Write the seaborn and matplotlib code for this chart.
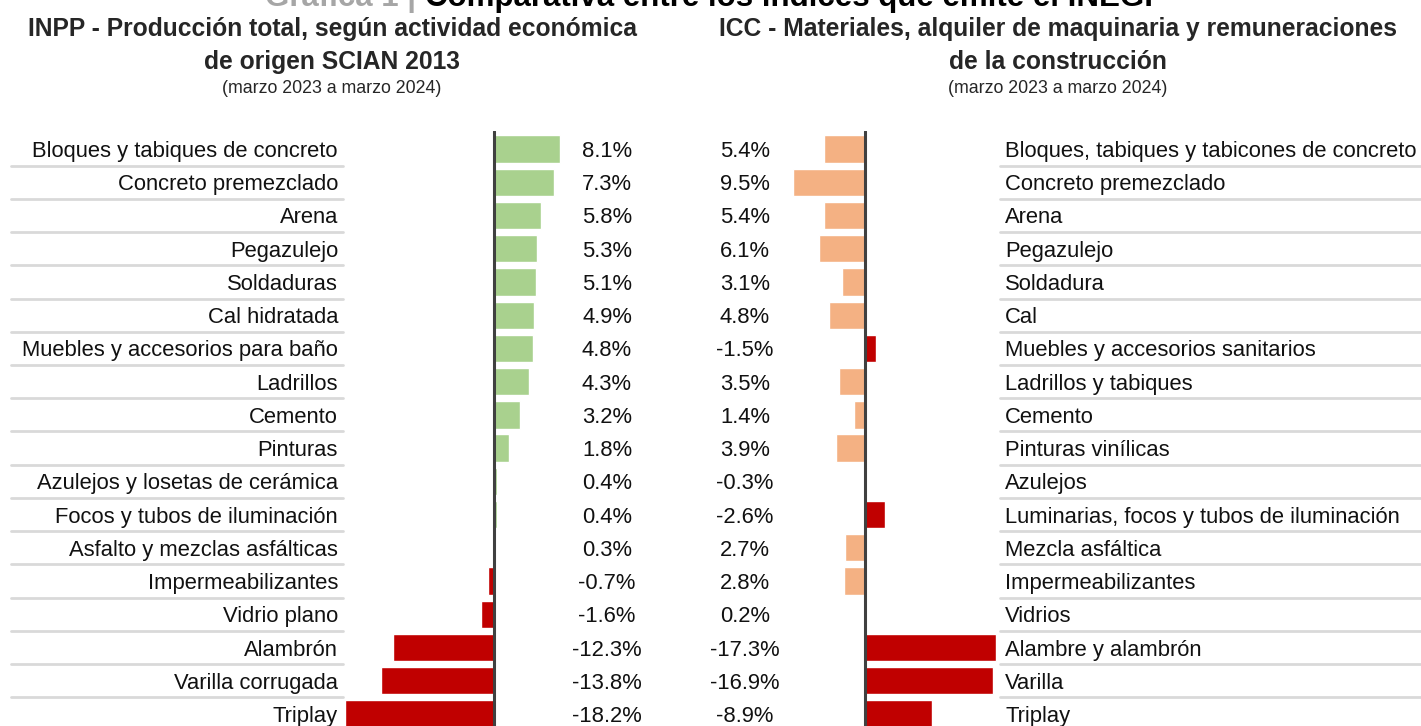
# Comparativo INPP vs ICC - barras horizontales espejo
import matplotlib
matplotlib.use("Agg")
import matplotlib.pyplot as plt
import matplotlib.transforms as mtransforms
import seaborn as sns
import pandas as pd

inpp_labels = ["Bloques y tabiques de concreto", "Concreto premezclado", "Arena", "Pegazulejo",
               "Soldaduras", "Cal hidratada", "Muebles y accesorios para baño", "Ladrillos",
               "Cemento", "Pinturas", "Azulejos y losetas de cerámica", "Focos y tubos de iluminación",
               "Asfalto y mezclas asfálticas", "Impermeabilizantes", "Vidrio plano", "Alambrón",
               "Varilla corrugada", "Triplay"]
inpp_values = [8.1, 7.3, 5.8, 5.3, 5.1, 4.9, 4.8, 4.3, 3.2, 1.8, 0.4, 0.4, 0.3, -0.7, -1.6, -12.3, -13.8, -18.2]

icc_labels = ["Bloques, tabiques y tabicones de concreto", "Concreto premezclado", "Arena", "Pegazulejo",
              "Soldadura", "Cal", "Muebles y accesorios sanitarios", "Ladrillos y tabiques",
              "Cemento", "Pinturas vinílicas", "Azulejos", "Luminarias, focos y tubos de iluminación",
              "Mezcla asfáltica", "Impermeabilizantes", "Vidrios", "Alambre y alambrón",
              "Varilla", "Triplay"]
icc_values = [5.4, 9.5, 5.4, 6.1, 3.1, 4.8, -1.5, 3.5, 1.4, 3.9, -0.3, -2.6, 2.7, 2.8, 0.2, -17.3, -16.9, -8.9]

title_main = "Comparativa entre los índices que emite el INEGI"
title_left = ["INPP - Producción total, según actividad económica", "de origen SCIAN 2013"]
title_right = ["ICC - Materiales, alquiler de maquinaria y remuneraciones", "de la construcción"]
periodo = "(marzo 2023 a marzo 2024)"

GREEN, SALMON, RED = "#A9D18E", "#F4B183", "#C00000"

sns.set_theme(style="white")
plt.rcParams["font.family"] = ["Liberation Sans", "DejaVu Sans"]

W, H = 1421, 726
fig = plt.figure(figsize=(W / 100, H / 100), dpi=100)

def fx(x):
    return x / W

def fy(y):
    return 1 - y / H

top_px = 131
row0, step = 149, 33.24
ylim = (17 + (H - 714) / step, -(row0 - top_px) / step)

df_l = pd.DataFrame({"cat": inpp_labels, "val": inpp_values})
df_l["color"] = [GREEN if v > 0 else RED for v in inpp_values]
df_r = pd.DataFrame({"cat": icc_labels, "val": icc_values})
df_r["color"] = [SALMON if v > 0 else RED for v in icc_values]

# left panel: zero at px 494, 8.18 px per point
ax_l = fig.add_axes([fx(300), 0, fx(400), (H - top_px) / H])
sns.barplot(data=df_l, x="val", y="cat", hue="cat", palette=list(df_l["color"]),
            width=0.82, dodge=False, legend=False, ax=ax_l, saturation=1)
ax_l.set_xlim(-(494 - 300) / 8.18, (700 - 494) / 8.18)

# right panel: zero at px 865, inverted, 7.55 px per point
ax_r = fig.add_axes([fx(760), 0, fx(240), (H - top_px) / H])
sns.barplot(data=df_r, x="val", y="cat", hue="cat", palette=list(df_r["color"]),
            width=0.82, dodge=False, legend=False, ax=ax_r, saturation=1)
ax_r.set_xlim((865 - 760) / 7.55, -(1000 - 865) / 7.55)

for ax in (ax_l, ax_r):
    ax.set_ylim(*ylim)
    ax.axvline(0, color="#404040", lw=2.2, zorder=5)
    ax.axis("off")
    ax.patch.set_visible(False)

tr_l = mtransforms.blended_transform_factory(fig.transFigure, ax_l.transData)
tr_r = mtransforms.blended_transform_factory(fig.transFigure, ax_r.transData)

fs = 15.8
for i, (lab, v) in enumerate(zip(inpp_labels, inpp_values)):
    ax_l.text(fx(338), i, lab, transform=tr_l, ha="right", va="center_baseline", fontsize=fs, color="#111111")
    ax_l.text(fx(607), i, f"{v:.1f}%", transform=tr_l, ha="center", va="center_baseline", fontsize=fs, color="#111111")
for i, (lab, v) in enumerate(zip(icc_labels, icc_values)):
    ax_r.text(fx(1005), i, lab, transform=tr_r, ha="left", va="center_baseline", fontsize=fs, color="#111111")
    ax_r.text(fx(745), i, f"{v:.1f}%", transform=tr_r, ha="center", va="center_baseline", fontsize=fs, color="#111111")

# separadores grises entre filas
for i in range(len(inpp_labels) - 1):
    ax_l.plot([fx(11), fx(343)], [i + 0.5, i + 0.5], transform=tr_l, color="#d9d9d9", lw=2, clip_on=False)
    ax_r.plot([fx(1000), fx(1421)], [i + 0.5, i + 0.5], transform=tr_r, color="#d9d9d9", lw=2, clip_on=False)

# titulos de paneles
for cx, lines, fst in ((332, title_left, 17.7), (1058, title_right, 17.7)):
    fig.text(fx(cx), fy(36), lines[0], ha="center", va="baseline", fontsize=fst, fontweight="bold")
    fig.text(fx(cx), fy(69), lines[1], ha="center", va="baseline", fontsize=fst, fontweight="bold")
    fig.text(fx(cx), fy(93), periodo, ha="center", va="baseline", fontsize=12.8)

# titulo principal (cortado arriba, como en la referencia)
t1 = fig.text(fx(265), fy(6), "Gráfica 1 | ", ha="left", va="baseline", fontsize=22.5,
              fontweight="bold", color="#a6a6a6")
fig.canvas.draw()
bb = t1.get_window_extent()
fig.text(bb.x1 / W, fy(6), title_main, ha="left", va="baseline", fontsize=22.5, fontweight="bold", color="#000000")

fig.savefig("out.png", dpi=100)
